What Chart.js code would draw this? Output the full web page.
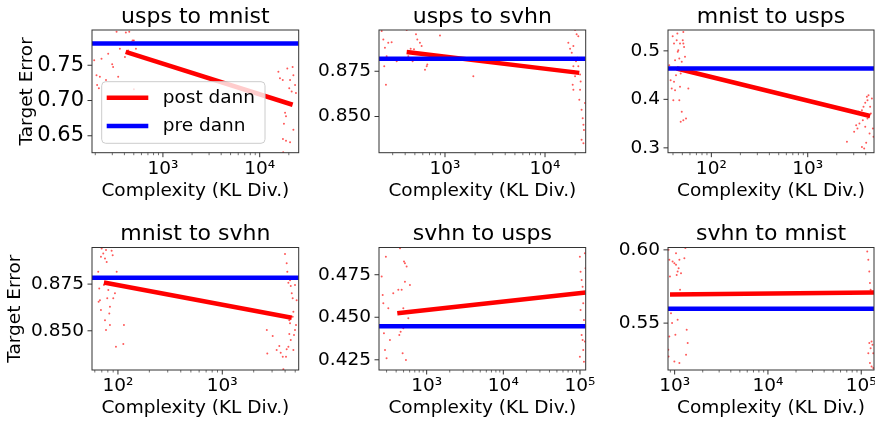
<!DOCTYPE html>
<html>
<head>
<meta charset="utf-8">
<script src="https://cdn.jsdelivr.net/npm/chart.js@4.4.1/dist/chart.umd.min.js"></script>
<style>
  html, body { margin: 0; padding: 0; background: #fff; overflow: hidden; }
  body { width: 875px; height: 422px; position: relative; }
  canvas { position: absolute; }
</style>
</head>
<body>
<script>
// panel titles
var titles = ['usps to mnist', 'usps to svhn', 'mnist to usps', 'mnist to svhn', 'svhn to usps', 'svhn to mnist'];

// scatter points (complexity, target error)
var umX = [195, 206, 209, 218, 223, 232, 258, 272, 299, 306, 345, 332, 414, 449, 474, 486, 501, 437, 405, 526, 359, 501,
  15600, 16200, 17300, 18300, 18700, 17800, 17400, 18700, 20600, 22300, 23200, 20600, 21400, 22300, 19300, 20600, 21900, 23700, 17500, 20200];
var umY = [0.757, 0.736, 0.722, 0.7175, 0.7337, 0.7593, 0.729, 0.7663, 0.7514, 0.7477, 0.7337, 0.7975, 0.7965, 0.7975, 0.7826, 0.785, 0.785, 0.771, 0.7616, 0.7733, 0.7733, 0.716,
  0.7407, 0.7314, 0.729, 0.6825, 0.6778, 0.6672, 0.6453, 0.643, 0.6407, 0.6584, 0.722, 0.729, 0.7128, 0.736, 0.7454, 0.6965, 0.7477, 0.7105, 0.6267, 0.7175];

var usX = [233, 242, 251, 261, 247, 257, 271, 293, 329, 414, 430, 454, 475, 490, 513, 529, 562, 584, 607, 631, 656, 666, 891, 1920,
  17100, 17800, 18500, 19200, 19950, 20700, 21500, 18900, 19200, 19500, 18900, 19200, 19950, 20400, 21100, 21500, 22400, 22000, 22700, 23200, 23800, 24200, 24500, 23200, 24200, 25100, 22400];
var usY = [0.8972, 0.8926, 0.888, 0.8833, 0.8778, 0.8676, 0.8908, 0.8911, 0.8806, 0.8978, 0.8833, 0.8874, 0.8806, 0.8871, 0.8954, 0.8926, 0.8908, 0.8889, 0.8815, 0.8759, 0.8778, 0.8787, 0.8948, 0.8722,
  0.8908, 0.8874, 0.8852, 0.8889, 0.8978, 0.8954, 0.8944, 0.8815, 0.8778, 0.875, 0.8676, 0.8648, 0.8722, 0.8806, 0.8824, 0.8778, 0.8648, 0.8593, 0.8694, 0.8537, 0.8491, 0.8454, 0.8426, 0.8371, 0.8352, 0.8574, 0.8732];

var muX = [36.6, 37.8, 38.8, 39.7, 41.0, 42.0, 43.0, 43.7, 44.4, 45.4, 46.5, 47.3, 48.1, 49.3, 50.5, 51.2, 46.5, 40.3, 42.0, 47.3, 51.2, 52.1, 53.3, 49.3, 48.1, 51.2, 54.6, 57.7, 44.8, 41.0,
  2550, 3030, 3180, 3280, 3440, 3500, 3650, 3790, 3950, 4110, 4170, 4270, 4440, 4520, 4630, 4740, 4810, 3650, 3850, 4040, 4170, 4380, 3950, 3730, 3360];
var muY = [0.4705, 0.4396, 0.4225, 0.5303, 0.5153, 0.4808, 0.4499, 0.522, 0.5359, 0.5014, 0.4843, 0.5153, 0.4534, 0.4773, 0.522, 0.5153, 0.3983, 0.3983, 0.419, 0.4258, 0.539, 0.5082, 0.4876, 0.3742, 0.3536, 0.3571, 0.3606, 0.4225, 0.498, 0.4361,
  0.3124, 0.333, 0.3468, 0.34, 0.3503, 0.3709, 0.3777, 0.3845, 0.3928, 0.4052, 0.3983, 0.4087, 0.3845, 0.3709, 0.4018, 0.34, 0.3227, 0.302, 0.2988, 0.3103, 0.3606, 0.3297, 0.3433, 0.3571, 0.3742];

var msX = [64.7, 66.2, 67.2, 68.7, 69.8, 72.3, 75.1, 76.8, 78.0, 79.0, 80.8, 82.6, 83.8, 87.0, 89.0, 83.8, 76.8, 90.2, 93.6, 97.2, 95.7, 114.2, 112.5, 68.7, 73.4, 65.3, 75.1,
  2670, 2700, 3040, 3320, 3520, 3630, 3800, 3850, 3990, 4140, 4200, 4300, 4460, 4530, 4630, 4730, 4800, 4390, 4390, 4530, 4800, 4870, 4980, 5090, 5160, 4980, 4730, 4300, 4140, 4080, 4460];
var msY = [0.8816, 0.8727, 0.8664, 0.8611, 0.8941, 0.8914, 0.8887, 0.8932, 0.8869, 0.8674, 0.8718, 0.8593, 0.8629, 0.8928, 0.8905, 0.8531, 0.8504, 0.8674, 0.8701, 0.8816, 0.8415, 0.8531, 0.8429, 0.8896, 0.8745, 0.8655, 0.8557,
  0.8504, 0.8379, 0.8472, 0.8397, 0.8418, 0.8383, 0.8361, 0.8294, 0.8911, 0.8861, 0.8816, 0.8757, 0.8771, 0.874, 0.8701, 0.8674, 0.8602, 0.8557, 0.8483, 0.845, 0.8397, 0.8477, 0.8504, 0.8531, 0.8664, 0.8745, 0.8575, 0.8415, 0.8401, 0.8361, 0.854];

var suX = [259, 267, 272, 277, 286, 294, 300, 316, 332, 367, 449, 472, 458, 440, 496, 486, 506, 521, 537, 548, 521, 496, 576, 605, 427,
  99700, 101800, 105000, 108200, 110200, 112500, 105000, 108200, 110200, 112500, 115900, 118000, 101800, 115900, 108200, 99700, 115900];
var suY = [0.4739, 0.4631, 0.4582, 0.4406, 0.4308, 0.4856, 0.4259, 0.4553, 0.4367, 0.4641, 0.4906, 0.4661, 0.4415, 0.4396, 0.4435, 0.4288, 0.4827, 0.4818, 0.4249, 0.4798, 0.4709, 0.4553, 0.4494, 0.469, 0.4661,
  0.4856, 0.4768, 0.4719, 0.4641, 0.4582, 0.4484, 0.4396, 0.4367, 0.4308, 0.4239, 0.4876, 0.4788, 0.4543, 0.4445, 0.468, 0.4268, 0.4357];

var smX = [861, 877, 891, 914, 938, 877, 861, 951, 993, 1035, 1052, 1077, 1104, 1124, 1143, 1018, 993, 1124, 1077, 1271, 1303, 1325, 1347, 1381, 1171, 1035, 855,
  116000, 119000, 122000, 124000, 126000, 124000, 122000, 126000, 129000, 132000, 134500, 119000, 124000, 129000, 134500];
var smY = [0.6, 0.5932, 0.5818, 0.5568, 0.55, 0.5409, 0.5272, 0.592, 0.5909, 0.5898, 0.5829, 0.5852, 0.5875, 0.5932, 0.5727, 0.542, 0.5238, 0.5227, 0.5523, 0.5943, 0.6012, 0.5284, 0.5455, 0.5364, 0.5841, 0.5977, 0.5318,
  0.5988, 0.5932, 0.5852, 0.5773, 0.5727, 0.5591, 0.5364, 0.5329, 0.5375, 0.5352, 0.5295, 0.5295, 0.5227, 0.5204, 0.5193];

var pointsX = [umX, usX, muX, msX, suX, smX];
var pointsY = [umY, usY, muY, msY, suY, smY];

// post dann fit line end points, pre dann level
var fitX = [[412, 21900], [414, 22000], [43.7, 4440], [73.4, 4630], [414, 118700], [892, 137000]];
var fitY = [[0.769, 0.694], [0.8856, 0.8741], [0.4637, 0.3656], [0.8759, 0.857], [0.4524, 0.4645], [0.5695, 0.5709]];
var preDann = [0.781, 0.8819, 0.4637, 0.8784, 0.4447, 0.5598];

// axis limits and y tick labels
var xLimits = [[185, 25300], [219, 25500], [35.5, 4870], [56.4, 5400], [239, 118700], [849, 137000]];
var yLimits = [[0.626, 0.80], [0.830, 0.8978], [0.29, 0.543], [0.829, 0.8946], [0.419, 0.491], [0.518, 0.6016]];
var yTicks = [[0.65, 0.70, 0.75], [0.850, 0.875], [0.3, 0.4, 0.5], [0.850, 0.875], [0.425, 0.450, 0.475], [0.55, 0.60]];
var yTickLabels = [['0.65', '0.70', '0.75'], ['0.850', '0.875'], ['0.3', '0.4', '0.5'], ['0.850', '0.875'], ['0.425', '0.450', '0.475'], ['0.55', '0.60']];

var seriesNames = ['post dann', 'pre dann'];

Chart.defaults.font.family = "'DejaVu Sans'";
Chart.defaults.font.size = 18.5;
Chart.defaults.color = '#000';

var SUP = {'0': '\u2070', '1': '\u00b9', '2': '\u00b2', '3': '\u00b3', '4': '\u2074', '5': '\u2075', '6': '\u2076'};

function logTicks(min, max) {
  var out = [];
  for (var e = Math.floor(Math.log10(min)); e <= Math.ceil(Math.log10(max)); e++) {
    for (var d = 1; d < 10; d++) {
      var v = d * Math.pow(10, e);
      if (v >= min && v <= max) out.push({value: v, major: d === 1});
    }
  }
  return out;
}

// box frame + matplotlib style tick marks
var frameTicks = {
  id: 'frameTicks',
  afterDatasetsDraw: function(chart) {
    var ctx = chart.ctx, a = chart.chartArea, x = chart.scales.x, y = chart.scales.y;
    ctx.save();
    ctx.strokeStyle = '#333';
    ctx.lineWidth = 1;
    x.ticks.forEach(function(t) {
      var px = x.getPixelForValue(t.value);
      ctx.lineWidth = t.major ? 1 : 0.7;
      ctx.beginPath();
      ctx.moveTo(px, a.bottom);
      ctx.lineTo(px, a.bottom + (t.major ? 4.5 : 2.5));
      ctx.stroke();
    });
    ctx.lineWidth = 1;
    y.ticks.forEach(function(t) {
      var py = y.getPixelForValue(t.value);
      ctx.beginPath();
      ctx.moveTo(a.left, py);
      ctx.lineTo(a.left - 4.5, py);
      ctx.stroke();
    });
    ctx.strokeRect(a.left, a.top, a.right - a.left, a.bottom - a.top);
    ctx.restore();
  }
};

// legend box inside the first panel
var boxLegend = {
  id: 'boxLegend',
  afterDraw: function(chart) {
    var ctx = chart.ctx, a = chart.chartArea;
    var items = chart.data.datasets.filter(function(d) { return d.inLegend; });
    var x0 = a.left + 9.7, y0 = a.top + 51.7, w = 163.3, h = 61.6;
    ctx.save();
    ctx.fillStyle = 'rgba(255,255,255,0.8)';
    ctx.strokeStyle = '#cccccc';
    ctx.lineWidth = 1;
    ctx.beginPath();
    ctx.roundRect(x0, y0, w, h, 4);
    ctx.fill();
    ctx.stroke();
    items.forEach(function(d, k) {
      var yy = y0 + 16 + k * 28.3;
      ctx.strokeStyle = d.borderColor;
      ctx.lineWidth = d.borderWidth;
      ctx.beginPath();
      ctx.moveTo(x0 + 5, yy);
      ctx.lineTo(x0 + 46.6, yy);
      ctx.stroke();
      ctx.fillStyle = '#000';
      ctx.font = "18.5px 'DejaVu Sans'";
      ctx.textBaseline = 'middle';
      ctx.fillText(d.label, x0 + 61, yy);
    });
    ctx.restore();
  }
};

var canvasLeft = [0, 287, 576];
var canvasTop = [0, 217];
var padRight = [21.3, 21.3, 22];

function makePanel(i) {
  var col = i % 3, row = Math.floor(i / 3);
  var cv = document.createElement('canvas');
  cv.width = 320;
  cv.height = 205;
  cv.style.left = canvasLeft[col] + 'px';
  cv.style.top = canvasTop[row] + 'px';
  document.body.appendChild(cv);

  var pts = pointsX[i].map(function(v, k) { return {x: v, y: pointsY[i][k]}; });
  var fit = fitX[i].map(function(v, k) { return {x: v, y: fitY[i][k]}; });
  var pre = xLimits[i].map(function(v) { return {x: v, y: preDann[i]}; });

  new Chart(cv.getContext('2d'), {
    type: 'scatter',
    data: {
      datasets: [
        { label: 'points', data: pts, pointRadius: 1, pointBorderWidth: 0,
          backgroundColor: 'rgba(255,0,0,0.65)', order: 2 },
        { label: seriesNames[0], data: fit, showLine: true, pointRadius: 0,
          borderColor: '#ff0000', borderWidth: 4.5, order: 1, inLegend: true },
        { label: seriesNames[1], data: pre, showLine: true, pointRadius: 0,
          borderColor: '#0000ff', borderWidth: 4.5, order: 0, inLegend: true }
      ]
    },
    options: {
      responsive: false,
      animation: false,
      devicePixelRatio: 1,
      events: [],
      layout: { padding: { left: 0, top: 0, right: padRight[col], bottom: 0 } },
      plugins: {
        legend: { display: false },
        tooltip: { enabled: false },
        title: {
          display: true, text: titles[i], fullSize: false, color: '#000',
          font: { size: 22, weight: 'normal', lineHeight: 1 },
          padding: { top: 6, bottom: row === 0 ? 2 : 2.5 }
        }
      },
      scales: {
        x: {
          type: 'logarithmic',
          min: xLimits[i][0], max: xLimits[i][1],
          grid: { display: false, drawTicks: false },
          border: { display: false },
          ticks: {
            autoSkip: false, maxRotation: 0, minRotation: 0, padding: 5, color: '#000',
            callback: function(v, k, ticks) {
              if (!ticks[k].major) return '';
              var e = String(Math.round(Math.log10(v)));
              return '10' + e.split('').map(function(c) { return SUP[c]; }).join('');
            }
          },
          afterBuildTicks: function(s) { s.ticks = logTicks(s.min, s.max); },
          afterFit: function(s) { s.height = row === 0 ? 52.3 : 52; s.paddingLeft = 0; s.paddingRight = 0; },
          title: { display: true, text: 'Complexity (KL Div.)', color: '#000', padding: { top: 0, bottom: 3 } }
        },
        y: {
          min: yLimits[i][0], max: yLimits[i][1],
          grid: { display: false, drawTicks: false },
          border: { display: false },
          ticks: {
            padding: 8, color: '#000',
            font: { size: i === 0 ? 21 : 18.5 },
            callback: function(v, k) { return yTickLabels[i][k]; }
          },
          afterBuildTicks: function(s) { s.ticks = yTicks[i].map(function(v) { return {value: v}; }); },
          afterFit: function(s) { s.width = 92; s.paddingTop = 0; s.paddingBottom = 0; },
          title: { display: col === 0, text: 'Target Error', color: '#000',
                   padding: { top: row === 0 ? 16.4 : 4.4, bottom: 0 } }
        }
      }
    },
    plugins: i === 0 ? [frameTicks, boxLegend] : [frameTicks]
  });
}

for (var i = 0; i < 6; i++) makePanel(i);
</script>
</body>
</html>
